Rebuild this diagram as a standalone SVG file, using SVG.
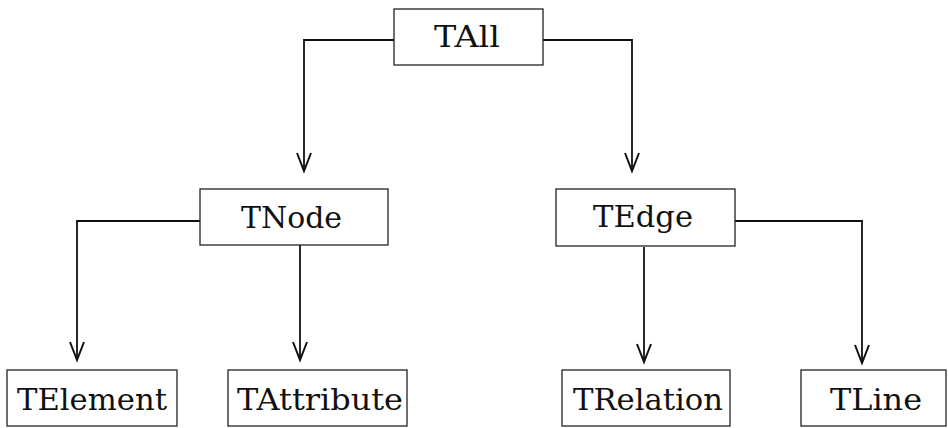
<svg xmlns="http://www.w3.org/2000/svg" width="948" height="428" viewBox="0 0 948 428">
<style>
.box{fill:#fff;stroke:#222;stroke-width:1.3}
.lbl{font-family:"DejaVu Serif","Liberation Serif",serif;font-size:30px;fill:#111;lengthAdjust:spacingAndGlyphs}
.con{fill:none;stroke:#111;stroke-width:1.8;marker-end:url(#arr)}
</style>
<defs>
<marker id="arr" markerUnits="userSpaceOnUse" markerWidth="24" markerHeight="20" viewBox="-20 -10 24 20" refX="0" refY="0" orient="auto">
<path d="M-18,-7 L0,0 L-18,7" fill="none" stroke="#111" stroke-width="2"/>
</marker>
</defs>
<rect width="948" height="428" fill="#fff"/>
<g id="connectors">
<path class="con" d="M394,40 H304 V171"/>
<path class="con" d="M543,40 H632 V171"/>
<path class="con" d="M200,221 H77 V360"/>
<path class="con" d="M300,245 V360"/>
<path class="con" d="M644,247 V362"/>
<path class="con" d="M735,221 H862 V363"/>
</g>
<g id="TAll"><rect class="box" x="394" y="9" width="149" height="56"/><text class="lbl" x="434" y="47" textLength="66" lengthAdjust="spacingAndGlyphs">TAll</text></g>
<g id="TNode"><rect class="box" x="200" y="189" width="188" height="56"/><text class="lbl" x="241" y="228" textLength="101" lengthAdjust="spacingAndGlyphs">TNode</text></g>
<g id="TEdge"><rect class="box" x="556" y="189" width="179" height="57"/><text class="lbl" x="593" y="227" textLength="100" lengthAdjust="spacingAndGlyphs">TEdge</text></g>
<g id="TElement"><rect class="box" x="7" y="370" width="170" height="56"/><text class="lbl" x="17" y="410" textLength="150" lengthAdjust="spacingAndGlyphs">TElement</text></g>
<g id="TAttribute"><rect class="box" x="228" y="370" width="179" height="56"/><text class="lbl" x="237" y="410" textLength="166" lengthAdjust="spacingAndGlyphs">TAttribute</text></g>
<g id="TRelation"><rect class="box" x="562" y="370" width="168" height="56"/><text class="lbl" x="573" y="410" textLength="150" lengthAdjust="spacingAndGlyphs">TRelation</text></g>
<g id="TLine"><rect class="box" x="801" y="370" width="145" height="56"/><text class="lbl" x="830" y="410" textLength="92" lengthAdjust="spacingAndGlyphs">TLine</text></g>
</svg>
